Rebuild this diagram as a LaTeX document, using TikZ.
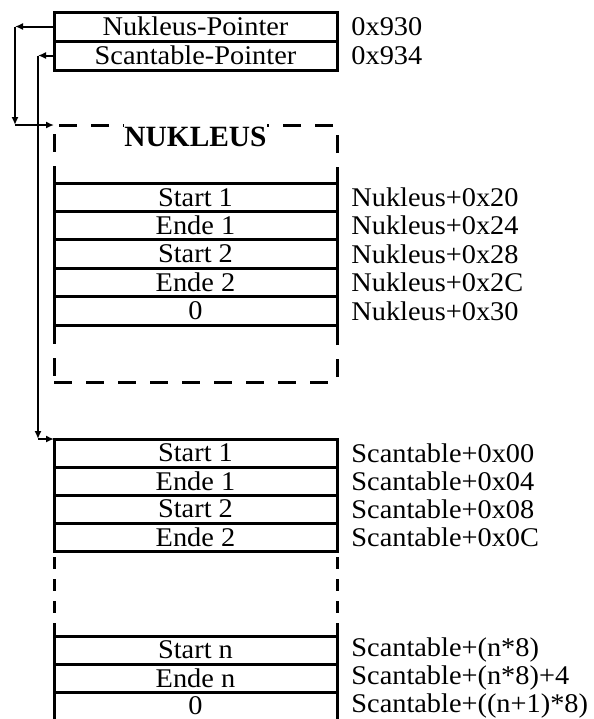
\documentclass[tikz,border=0pt]{standalone}
\usepackage{fontspec}
\setmainfont{Liberation Serif}
\newfontfamily\cellfont{Liberation Serif}[FakeStretch=1.05]
\usetikzlibrary{arrows.meta,positioning}

\begin{document}
\begin{tikzpicture}[x=0.5pt,y=-0.5pt,
  font=\cellfont\fontsize{13.5}{15}\selectfont,
  cell/.style={draw,line width=1.5pt,minimum width=141.5pt,minimum height=14pt,
               inner sep=0pt,outer sep=0pt},
  ncell/.style={cell,minimum height=14.2pt},
  ptr/.style={cell,minimum height=14.5pt},
  lbl/.style={inner sep=0pt},
  dbox/.style={draw,line width=1.5pt,dash pattern=on 9pt off 7pt,
               minimum width=141.5pt,minimum height=128.5pt,inner sep=0pt,outer sep=0pt},
  gapline/.style={line width=1.5pt,dash pattern=on 6pt off 5pt,dash phase=8pt},
  ar/.style={-{Latex[length=4pt,width=3.5pt]},line width=1pt},
]
\useasboundingbox (0,0) rectangle (594,719);

% pointer block
\node[ptr] (np) at (195.5,26.5) {Nukleus-Pointer};
\node[ptr,below=0pt of np] (sp) {Scantable-Pointer};
\node[lbl,right=7pt of np] {0x930};
\node[lbl,right=7pt of sp] {0x934};

% nukleus
\node[dbox] (nuk) at (195.5,253.5) {};
\node[font=\fontsize{14.7}{16}\selectfont\bfseries,fill=white,inner xsep=0pt,inner ysep=2.5pt,
      anchor=north] (ttl) at ([yshift=1.5pt]nuk.north) {NUKLEUS};
\node[ncell] (ns1) at (195.5,197.2) {Start 1};
\node[ncell,below=0pt of ns1] (ne1) {Ende 1};
\node[ncell,below=0pt of ne1] (ns2) {Start 2};
\node[ncell,below=0pt of ns2] (ne2) {Ende 2};
\node[ncell,below=0pt of ne2] (nz) {0};
\node[lbl,right=7pt of ns1] {Nukleus+0x20};
\node[lbl,right=7pt of ne1] {Nukleus+0x24};
\node[lbl,right=7pt of ns2] {Nukleus+0x28};
\node[lbl,right=7pt of ne2] {Nukleus+0x2C};
\node[lbl,right=7pt of nz] {Nukleus+0x30};

% scantable
\node[cell] (ss1) at (195.5,453) {Start 1};
\node[cell,below=0pt of ss1] (se1) {Ende 1};
\node[cell,below=0pt of se1] (ss2) {Start 2};
\node[cell,below=0pt of ss2] (se2) {Ende 2};
\node[cell] (ssn) at (195.5,650) {Start n};
\node[cell,below=0pt of ssn] (sen) {Ende n};
\node[cell,below=0pt of sen] (sz) {0};
\node[lbl,right=7pt of ss1] {Scantable+0x00};
\node[lbl,right=7pt of se1] {Scantable+0x04};
\node[lbl,right=7pt of ss2] {Scantable+0x08};
\node[lbl,right=7pt of se2] {Scantable+0x0C};
\node[lbl,right=7pt of ssn] {Scantable+(n*8)};
\node[lbl,right=7pt of sen] {Scantable+(n*8)+4};
\node[lbl,right=7pt of sz] {Scantable+((n+1)*8)};
\draw[gapline] (se2.south west) -- (ssn.north west);
\draw[gapline] (se2.south east) -- (ssn.north east);

% pointers
\coordinate (n1) at (15,26.5);
\coordinate (n2) at (15,125);
\coordinate (s1) at (38,55.5);
\coordinate (s2) at (38,439);
\draw[ar] (np.west) -- (n1);
\draw[ar] (n1) -- (n2);
\draw[ar] (n2) -- (nuk.north west);
\draw[ar] (sp.west) -- (s1);
\draw[ar] (s1) -- (s2);
\draw[ar] (s2) -- (ss1.north west);
\end{tikzpicture}
\end{document}
